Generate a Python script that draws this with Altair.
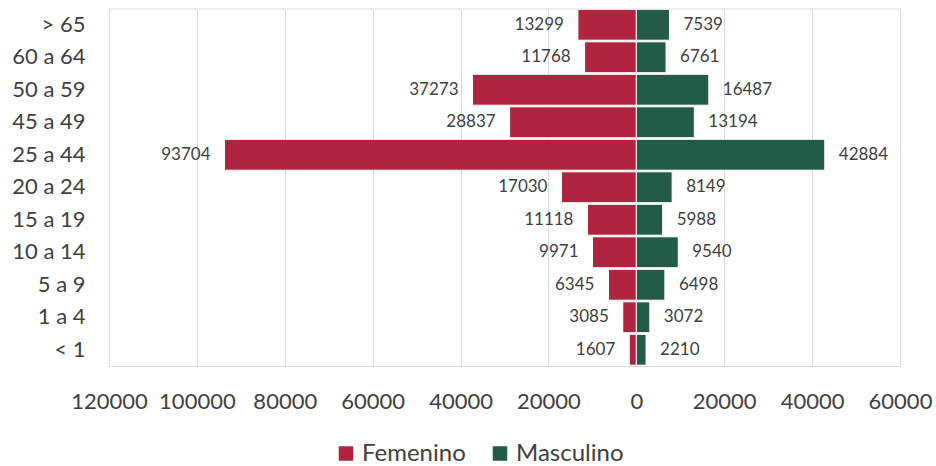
import altair as alt
import pandas as pd

# Age groups, top to bottom
grupos = ["> 65", "60 a 64", "50 a 59", "45 a 49", "25 a 44", "20 a 24",
          "15 a 19", "10 a 14", "5 a 9", "1 a 4", "< 1"]
femenino = [13299, 11768, 37273, 28837, 93704, 17030, 11118, 9971, 6345, 3085, 1607]
masculino = [7539, 6761, 16487, 13194, 42884, 8149, 5988, 9540, 6498, 3072, 2210]
sexos = ["Femenino", "Masculino"]
colores = ["#B0243F", "#235B46"]
ticks_x = [-120000, -100000, -80000, -60000, -40000, -20000, 0, 20000, 40000, 60000]

rows = []
for g, f, m in zip(grupos, femenino, masculino):
    rows.append({"grupo": g, "sexo": "Femenino", "valor": f, "pos": -f})
    rows.append({"grupo": g, "sexo": "Masculino", "valor": m, "pos": m})
df = pd.DataFrame(rows)

FONT = "Lato"
TXT = "#404040"

y_enc = alt.Y("grupo:N", sort=grupos, title=None,
              scale=alt.Scale(paddingInner=0.05, paddingOuter=0.025),
              axis=alt.Axis(labelFontSize=22, labelColor=TXT, labelFont=FONT,
                            labelPadding=24, ticks=False, domain=False, grid=False))
x_enc = alt.X("pos:Q", title=None,
              scale=alt.Scale(domain=[-120000, 60000], nice=False),
              axis=alt.Axis(values=ticks_x, labelExpr="abs(datum.value)",
                            labelFontSize=22, labelColor=TXT, labelFont=FONT,
                            labelPadding=25, ticks=False, domain=False,
                            grid=True, gridColor="#D9D9D9", gridWidth=1,
                            labelFlush=False))

bars = alt.Chart(df).mark_bar(stroke="white", strokeWidth=1).encode(
    x=x_enc,
    y=y_enc,
    color=alt.Color("sexo:N", scale=alt.Scale(domain=sexos, range=colores),
                    legend=alt.Legend(title=None, orient="none", direction="horizontal",
                                      legendX=225, legendY=433,
                                      symbolType="square", symbolSize=210,
                                      symbolStrokeWidth=0,
                                      labelFontSize=24, labelFont=FONT,
                                      labelColor=TXT, labelOffset=4,
                                      columnPadding=22)),
)

fem_labels = alt.Chart(df[df["sexo"] == "Femenino"]).mark_text(
    align="right", baseline="middle", dx=-14, fontSize=17, font=FONT, color=TXT
).encode(x="pos:Q", y=alt.Y("grupo:N", sort=grupos), text=alt.Text("valor:Q", format="d"))

mas_labels = alt.Chart(df[df["sexo"] == "Masculino"]).mark_text(
    align="left", baseline="middle", dx=14, fontSize=17, font=FONT, color=TXT
).encode(x="pos:Q", y=alt.Y("grupo:N", sort=grupos), text=alt.Text("valor:Q", format="d"))

chart = (bars + fem_labels + mas_labels).properties(
    width=791, height=357.5,
    autosize=alt.AutoSizeParams(type="none"),
    padding={"left": 109, "top": 8.5, "right": 36, "bottom": 100},
).configure_view(stroke=None).configure(background="white")

chart.save("out.html", embed_options={"renderer": "svg", "actions": False})
